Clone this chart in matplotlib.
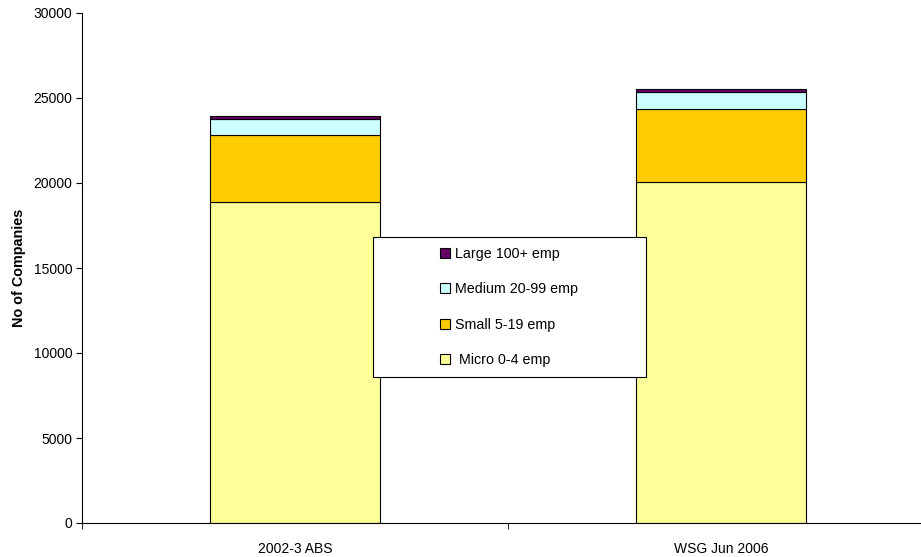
import matplotlib.pyplot as plt
from matplotlib.patches import Rectangle

plt.rcParams['font.family'] = ['Liberation Sans', 'DejaVu Sans']

categories = ['2002-3 ABS', 'WSG Jun 2006']
micro = [18900, 20050]
small = [3900, 4300]
medium = [950, 1000]
large = [200, 180]

series = [('Micro 0-4 emp', micro, '#FFFF99'),
          ('Small 5-19 emp', small, '#FFCC00'),
          ('Medium 20-99 emp', medium, '#CCFFFF'),
          ('Large 100+ emp', large, '#660066')]

fig = plt.figure(figsize=(9.21, 5.57), dpi=100)
ax = fig.add_axes([82/921, 34/557, 852/921, 510/557])

x = list(range(len(categories)))
bottom = [0] * len(categories)
handles = []
for name, vals, col in series:
    b = ax.bar(x, vals, 0.4, bottom=bottom, color=col, edgecolor='black',
               linewidth=0.8, label=name)
    handles.append(b)
    bottom = [bt + v for bt, v in zip(bottom, vals)]

ax.set_xlim(-0.5, 1.5)
ax.set_ylim(0, 30000)
ax.set_yticks(range(0, 30001, 5000))
ax.set_xticks(x)
ax.set_xticklabels(categories)
ax.set_xticks([-0.5, 0.5, 1.5], minor=True)
ax.tick_params(axis='x', which='major', length=0, pad=14, labelsize=10)
ax.tick_params(axis='x', which='minor', length=4, direction='out')
ax.tick_params(axis='y', length=4, direction='out', pad=3, labelsize=10)
ax.spines['top'].set_visible(False)
ax.spines['right'].set_visible(False)
ax.set_ylabel('No of Companies', fontsize=10.4, fontweight='bold', labelpad=5)

# legend box
fig.patches.append(Rectangle((373/921, (557-377)/557), 273/921, 140/557,
                             transform=fig.transFigure, facecolor='white',
                             edgecolor='black', linewidth=0.8, zorder=5))
labels = ['Large 100+ emp', 'Medium 20-99 emp', 'Small 5-19 emp', ' Micro 0-4 emp']
leg = fig.legend(handles[::-1], labels,
                 loc='center', bbox_to_anchor=(509/921, (557-307)/557),
                 frameon=False, fontsize=10.3, handlelength=0.7,
                 handleheight=0.7, handletextpad=0.3, labelspacing=1.5)
leg.set_zorder(6)

fig.savefig('out.png', dpi=100)
